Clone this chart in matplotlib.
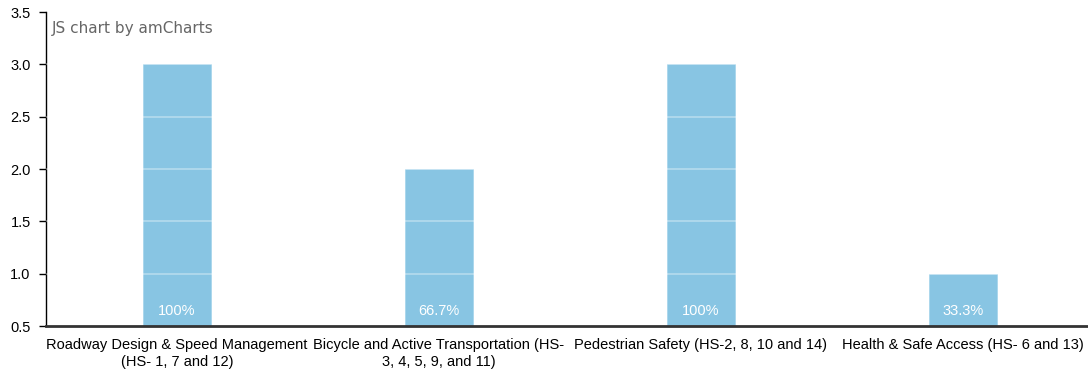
import matplotlib
matplotlib.use("Agg")
import matplotlib.pyplot as plt
import numpy as np

categories = [
    "Roadway Design & Speed Management\n(HS- 1, 7 and 12)",
    "Bicycle and Active Transportation (HS-\n3, 4, 5, 9, and 11)",
    "Pedestrian Safety (HS-2, 8, 10 and 14)",
    "Health & Safe Access (HS- 6 and 13)",
]
values = [3, 2, 3, 1]
percent_labels = ["100%", "66.7%", "100%", "33.3%"]
y_ticks = [0.5, 1.0, 1.5, 2.0, 2.5, 3.0, 3.5]

plt.rcParams["font.family"] = ["Liberation Sans", "DejaVu Sans"]

fig = plt.figure(figsize=(10.88, 3.73), dpi=100)
ax = fig.add_axes([46 / 1088, 1 - 326 / 373, 1048 / 1088, 314 / 373])
ax.patch.set_visible(False)

base = 0.5
x = np.arange(len(categories))
ax.bar(x, np.array(values) - base, bottom=base, width=0.26,
       color="#88c5e3", edgecolor="#a8d6ec", linewidth=0.6, zorder=2,
       clip_on=False)

# white grid lines, visible only where they cross the bars
for t in y_ticks[1:-1]:
    ax.axhline(t, color="white", lw=1.3, alpha=0.35, zorder=3)

for xi, lab in zip(x, percent_labels):
    ax.text(xi, 0.64, lab, ha="center", va="center", color="white",
            fontsize=10.5, zorder=4)

ax.set_xlim(-0.5, 3.5)
ax.set_ylim(0.5, 3.5)
ax.set_yticks(y_ticks)
ax.set_yticklabels([f"{t:.1f}" for t in y_ticks], fontsize=10.5)
ax.set_xticks(x)
ax.set_xticklabels(categories, fontsize=10.5, linespacing=1.2)
ax.tick_params(axis="x", length=0, pad=9)
ax.tick_params(axis="y", length=5, width=1, color="#000000", pad=6)

for s in ["top", "right"]:
    ax.spines[s].set_visible(False)
ax.spines["left"].set_color("#000000")
ax.spines["left"].set_linewidth(1)
ax.spines["bottom"].set_color("#333333")
ax.spines["bottom"].set_linewidth(2)
ax.spines["bottom"].set_zorder(5)

fig.text(52 / 1088, 1 - 28 / 373, "JS chart by amCharts", color="#666666",
         fontsize=11, family="DejaVu Sans", va="center", ha="left")

fig.savefig("out.png", dpi=100)
